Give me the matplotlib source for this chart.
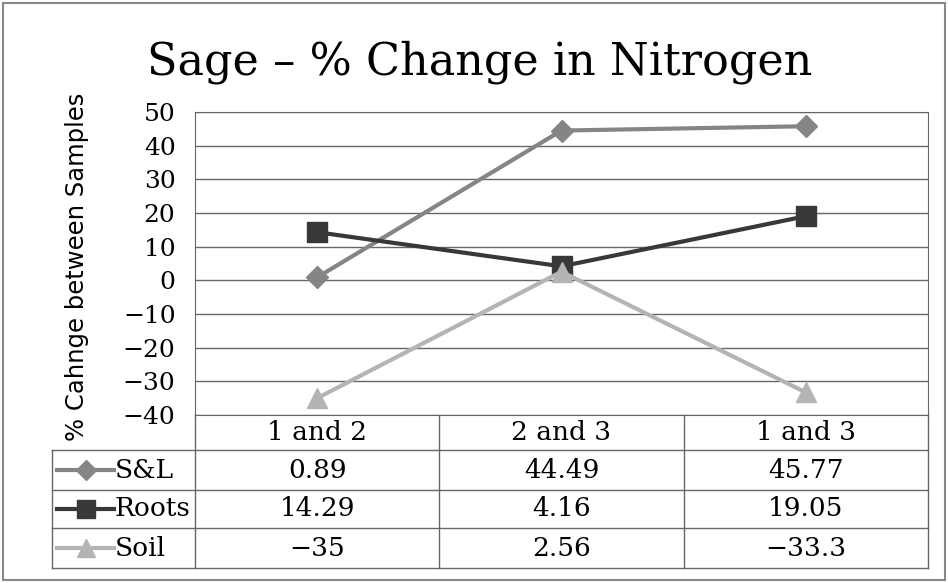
import matplotlib.pyplot as plt
from matplotlib.lines import Line2D
from matplotlib.transforms import blended_transform_factory

categories = ['1 and 2', '2 and 3', '1 and 3']
series_names = ['S&L', 'Roots', 'Soil']
sl_values = [0.89, 44.49, 45.77]
roots_values = [14.29, 4.16, 19.05]
soil_values = [-35, 2.56, -33.3]
sl_labels = ['0.89', '44.49', '45.77']
roots_labels = ['14.29', '4.16', '19.05']
soil_labels = ['-35', '2.56', '-33.3']

W, H = 948, 583
fig = plt.figure(figsize=(W / 100, H / 100), dpi=100)
serif = 'DejaVu Serif'
fs = 19

# plot area (pixel positions from the reference)
left, right, top, bottom = 195, 928, 112, 415
ax = fig.add_axes([left / W, 1 - bottom / H, (right - left) / W, (bottom - top) / H])

x = list(range(len(categories)))
styles = [
    (sl_values, '#858585', 'D', 11),
    (roots_values, '#383838', 's', 14),
    (soil_values, '#b4b4b4', '^', 14),
]
for vals, col, mk, ms in styles:
    ax.plot(x, vals, color=col, lw=3, marker=mk, ms=ms, zorder=3)

ax.set_xlim(-0.5, 2.5)
ax.set_ylim(-40, 50)
ax.set_yticks(range(-40, 51, 10))
ax.set_yticklabels([str(v).replace('-', '\u2212') for v in range(-40, 51, 10)],
                   fontfamily=serif, fontsize=18)
ax.tick_params(axis='y', length=0, pad=14)
ax.set_xticks([])
ax.grid(axis='y', color='#666666', lw=1)
for s in ax.spines.values():
    s.set_color('#666666')

ax.set_ylabel('% Cahnge between Samples', fontsize=17.5)
ax.yaxis.set_label_coords(-0.145, 0.49)

fig.text(480 / W, 1 - 62 / H, 'Sage \u2013 % Change in Nitrogen',
         ha='center', va='center', fontfamily=serif, fontsize=32)

# data table below the plot
def fy(py):
    return 1 - py / H

tr = blended_transform_factory(ax.transData, fig.transFigure)
rows = [415, 450, 490, 528, 568]
tab_left = 52 / W
lc = '#666666'

for xd in [-0.5, 0.5, 1.5, 2.5]:
    fig.add_artist(Line2D([xd, xd], [fy(rows[0]), fy(rows[-1])], color=lc, lw=1, transform=tr))
fig.add_artist(Line2D([tab_left, tab_left], [fy(rows[1]), fy(rows[-1])], color=lc, lw=1,
                      transform=fig.transFigure))
for py in rows[1:]:
    fig.add_artist(Line2D([tab_left, right / W], [fy(py), fy(py)], color=lc, lw=1,
                          transform=fig.transFigure))

for i, c in enumerate(categories):
    fig.text(i, fy((rows[0] + rows[1]) / 2), c, transform=tr, ha='center', va='center',
             fontfamily=serif, fontsize=fs)

row_labels = [sl_labels, roots_labels, soil_labels]
for r, (name, labs, (vals, col, mk, ms)) in enumerate(zip(series_names, row_labels, styles)):
    yc = fy((rows[r + 1] + rows[r + 2]) / 2)
    fig.add_artist(Line2D([57 / W, 86 / W, 114 / W], [yc, yc, yc], color=col, lw=3,
                          marker=mk, markevery=[1], ms=ms - 1, transform=fig.transFigure))
    fig.text(115 / W, yc, name, ha='left', va='center', fontfamily=serif, fontsize=fs)
    for i, lab in enumerate(labs):
        fig.text(i, yc, lab.replace('-', '\u2212'), transform=tr, ha='center', va='center',
                 fontfamily=serif, fontsize=fs)

# outer border
fig.add_artist(plt.Rectangle((3 / W, 3 / H), 1 - 6 / W, 1 - 6 / H, fill=False,
                             edgecolor='#888888', lw=1.5, transform=fig.transFigure))

fig.savefig('out.png', dpi=100)
